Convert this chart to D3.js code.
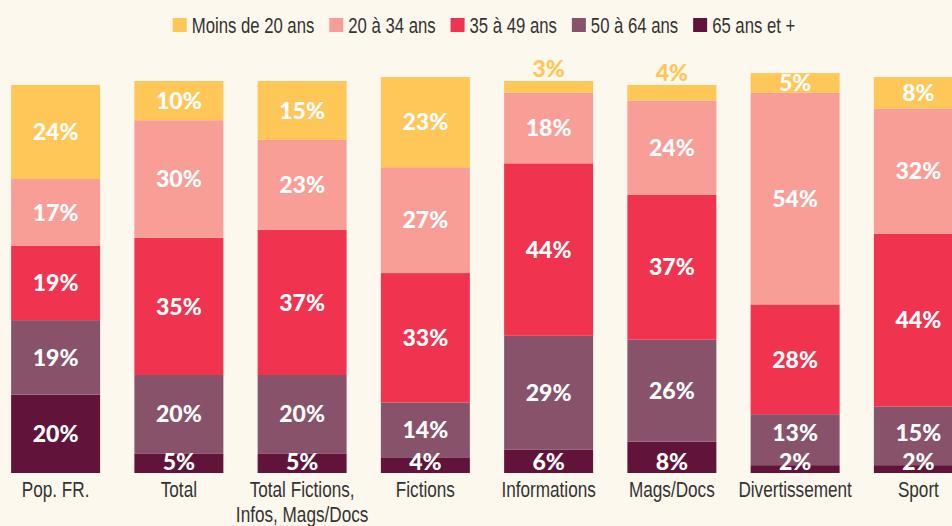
<!DOCTYPE html>
<html>
<head>
<meta charset="utf-8">
<script src="https://cdn.jsdelivr.net/npm/d3@7"></script>
<style>
  html, body { margin: 0; padding: 0; background: #fdf8ed; }
  svg { display: block; }
</style>
</head>
<body>
<svg id="chart" width="952" height="526"></svg>
<script>
// Audience breakdown by age group, per programme genre
const categories = ["Pop. FR.", "Total", "Total Fictions,\nInfos, Mags/Docs", "Fictions", "Informations", "Mags/Docs", "Divertissement", "Sport"];
const seriesNames = ["Moins de 20 ans", "20 à 34 ans", "35 à 49 ans", "50 à 64 ans", "65 ans et +"];
const seriesColors = ["#ffc658", "#f89e96", "#f0334f", "#88526a", "#611339"];

const moins20 = [24, 10, 15, 23, 3, 4, 5, 8];
const de20a34 = [17, 30, 23, 27, 18, 24, 54, 32];
const de35a49 = [19, 35, 37, 33, 44, 37, 28, 44];
const de50a64 = [19, 20, 20, 14, 29, 26, 13, 15];
const plus65  = [20, 5, 5, 4, 6, 8, 2, 2];

const seriesValues = [moins20, de20a34, de35a49, de50a64, plus65];

const rows = categories.map((c, i) => {
  const r = { cat: c };
  seriesNames.forEach((s, j) => r[s] = seriesValues[j][i]);
  return r;
});

const svg = d3.select("#chart");
const baseY = 473, topY = 81;

const x = d3.scaleBand()
  .domain(categories)
  .range([-6, 980])
  .paddingInner(0.278)
  .paddingOuter(0.139);

const y = d3.scaleLinear().domain([0, 100]).range([baseY, topY]);

const color = d3.scaleOrdinal().domain(seriesNames).range(seriesColors);

// stack from the oldest group at the bottom up to the youngest on top
const stackOrder = seriesNames.slice().reverse();
const stacked = d3.stack().keys(stackOrder)(rows);

svg.append("g").selectAll("g")
  .data(stacked)
  .join("g")
  .attr("fill", d => color(d.key))
  .selectAll("rect")
  .data(d => d)
  .join("rect")
  .attr("x", d => x(d.data.cat))
  .attr("width", x.bandwidth())
  .attr("y", d => y(d[1]))
  .attr("height", d => y(d[0]) - y(d[1]));

// value labels: centred in their segment, small bottom ones held inside the bar,
// small top ones lifted above it; stacked labels are kept from colliding
const labels = svg.append("g")
  .attr("font-family", "Lato, 'Open Sans', sans-serif")
  .attr("font-weight", 900)
  .attr("font-size", 23)
  .attr("text-anchor", "middle");

categories.forEach((c, ci) => {
  const cx = x(c) + x.bandwidth() / 2;
  let prev = Infinity;
  stacked.forEach((layer, li) => {
    const d = layer[ci];
    const v = d[1] - d[0];
    let cy = (y(d[0]) + y(d[1])) / 2;
    let fill = "#ffffff";
    if (li === 0 && v < 10) cy = baseY - 11;
    if (li === stacked.length - 1 && v < 5) {
      cy = y(d[1]) - 12;
      fill = color(layer.key);
    }
    cy = Math.min(cy, prev - 29);
    prev = cy;
    labels.append("text")
      .attr("x", cx)
      .attr("y", cy)
      .attr("dy", "0.36em")
      .attr("fill", fill)
      .text(v + "%");
  });
});

// condensed sans for the category names and legend
const narrowFont = "'Liberation Sans', Arial, sans-serif";

const axis = svg.append("g")
  .attr("font-family", narrowFont)
  .attr("font-size", 22)
  .attr("fill", "#333")
  .attr("text-anchor", "middle");

categories.forEach(c => {
  const t = axis.append("text")
    .attr("transform", `translate(${x(c) + x.bandwidth() / 2},497) scale(0.78,1)`);
  c.split("\n").forEach((line, k) => {
    t.append("tspan")
      .attr("x", 0)
      .attr("y", k * 25)
      .text(line);
  });
});

// legend
const legend = svg.append("g")
  .attr("font-family", narrowFont)
  .attr("font-size", 22)
  .attr("fill", "#333");

const sw = 14, gapText = 5, gapItem = 15, squeeze = 0.76;
const items = seriesNames.map(s => {
  const g = legend.append("g");
  g.append("rect").attr("width", sw).attr("height", sw).attr("y", -sw / 2).attr("fill", color(s));
  const t = g.append("text")
    .attr("transform", `translate(${sw + gapText},0) scale(${squeeze},1)`)
    .attr("dy", "0.36em")
    .text(s);
  return { g, w: sw + gapText + t.node().getComputedTextLength() * squeeze };
});
const totalW = d3.sum(items, d => d.w) + gapItem * (items.length - 1);
let lx = 484 - totalW / 2;
items.forEach(it => {
  it.g.attr("transform", `translate(${lx},25)`);
  lx += it.w + gapItem;
});
</script>
</body>
</html>
